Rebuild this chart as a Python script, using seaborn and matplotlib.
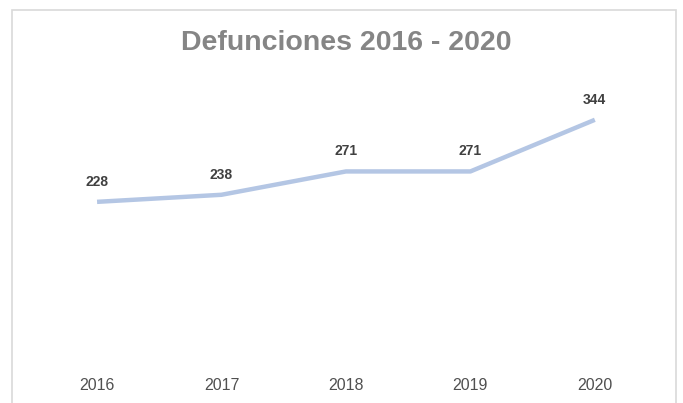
import seaborn as sns
from matplotlib import pyplot as plt
from matplotlib.patches import Rectangle
import pandas as pd

years = ["2016", "2017", "2018", "2019", "2020"]
deaths = [228, 238, 271, 271, 344]
title = "Defunciones 2016 - 2020"

LINE_COLOR = "#B4C6E4"

sns.set_theme(style="white")
plt.rcParams["font.family"] = ["Liberation Sans", "DejaVu Sans"]

df = pd.DataFrame({"year": years, "deaths": deaths})

fig = plt.figure(figsize=(6.83, 4.03), dpi=100)
ax = fig.add_axes([0.051, 0.099, 0.911, 0.702])

sns.lineplot(data=df, x="year", y="deaths", ax=ax, color=LINE_COLOR,
             linewidth=3.2, sort=False, solid_capstyle="butt")

for i, v in enumerate(deaths):
    ax.annotate(str(v), (i, v), xytext=(0, 9.5), textcoords="offset points",
                ha="center", va="bottom", fontsize=10, fontweight="bold",
                color="#404040")

ax.set_xlim(-0.5, len(years) - 0.5)
ax.set_ylim(0, 400)
ax.set_xlabel("")
ax.set_ylabel("")
ax.set_yticks([])
ax.tick_params(axis="x", length=0, labelsize=11.5, labelcolor="#505050", pad=11)
sns.despine(ax=ax, left=True, bottom=True)

fig.text(0.507, 0.893, title, ha="center", va="center", fontsize=20.5,
         fontweight="bold", color="#858585")

# chart frame
fig.patches.append(Rectangle((12 / 683, -0.05), 664 / 683, 1.025,
                             transform=fig.transFigure, fill=False,
                             edgecolor="#D9D9D9", linewidth=1.2))

fig.savefig("out.png", dpi=100)
